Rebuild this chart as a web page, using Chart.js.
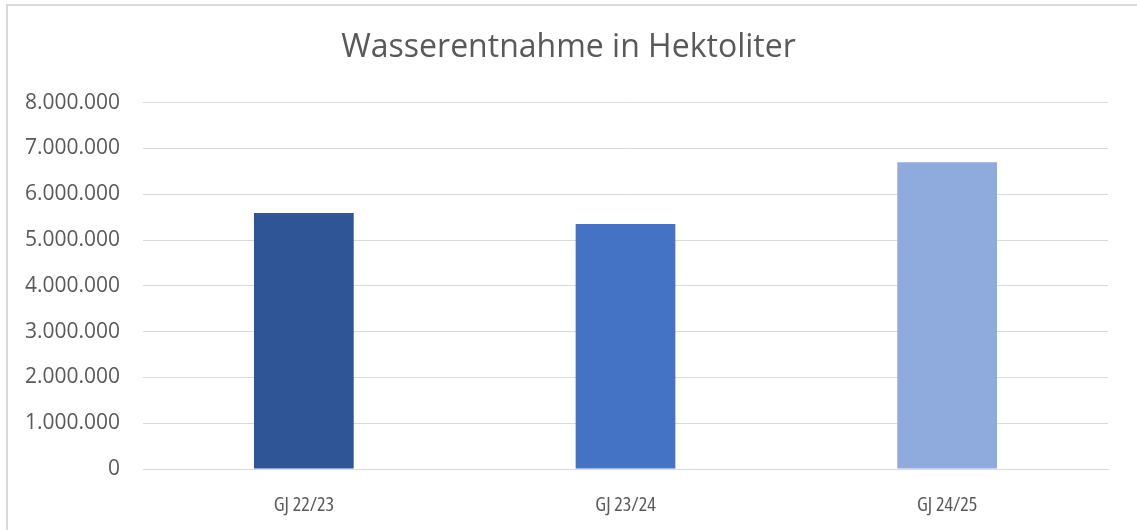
<!DOCTYPE html>
<html>
<head>
<meta charset="utf-8">
<script src="https://cdn.jsdelivr.net/npm/chart.js@4/dist/chart.umd.min.js"></script>
<style>
  html, body { margin: 0; padding: 0; background: #fff; overflow: hidden; }
  #wrap { position: relative; width: 1137px; height: 530px; }
  #frame { position: absolute; left: 6px; top: 4px; width: 1140px; height: 540px; border: 2px solid #d9d9d9; box-sizing: border-box; }
  canvas { position: absolute; left: 0; top: 0; }
</style>
</head>
<body>
<div id="wrap">
  <div id="frame"></div>
  <canvas id="c" width="1137" height="530"></canvas>
</div>
<script>
const categories = ["GJ 22/23", "GJ 23/24", "GJ 24/25"];
const values = [5590000, 5350000, 6700000];
const barColors = ["#2F5597", "#4472C4", "#8FAADC"];
const titleText = "Wasserentnahme in Hektoliter";
const yMax = 8000000;
const yStep = 1000000;

function deFormat(v) {
  return String(Math.round(v)).replace(/\B(?=(\d{3})+(?!\d))/g, ".");
}

new Chart(document.getElementById("c"), {
  type: "bar",
  data: {
    labels: categories,
    datasets: [{
      data: values,
      backgroundColor: barColors,
      borderWidth: 0,
      categoryPercentage: 1,
      barPercentage: 0.31
    }]
  },
  options: {
    responsive: false,
    animation: false,
    devicePixelRatio: 1,
    layout: { padding: 0 },
    plugins: {
      legend: { display: false },
      tooltip: { enabled: false },
      title: {
        display: true,
        text: titleText,
        color: "#595959",
        font: { family: "'Open Sans'", size: 32, weight: "normal" },
        padding: { top: 29, bottom: 35.3 }
      }
    },
    scales: {
      x: {
        grid: { display: false, drawTicks: false },
        border: { display: true, color: "#d9d9d9", width: 1 },
        ticks: {
          color: "#595959",
          font: { family: "'Open Sans'", size: 20, weight: "normal condensed" },
          padding: 24
        },
        afterFit(scale) { scale.height = 61; }
      },
      y: {
        min: 0,
        max: yMax,
        grid: { color: "#d9d9d9", lineWidth: 1, drawTicks: false },
        border: { display: false },
        ticks: {
          stepSize: yStep,
          color: "#595959",
          font: { family: "'Open Sans'", size: 21 },
          padding: 23,
          callback: (v) => deFormat(v)
        },
        afterFit(scale) { scale.width = 143; }
      },
      yRight: {
        type: "linear",
        position: "right",
        display: true,
        grid: { display: false, drawTicks: false },
        border: { display: false },
        ticks: { display: false },
        afterFit(scale) { scale.width = 29; }
      }
    }
  }
});
</script>
</body>
</html>
